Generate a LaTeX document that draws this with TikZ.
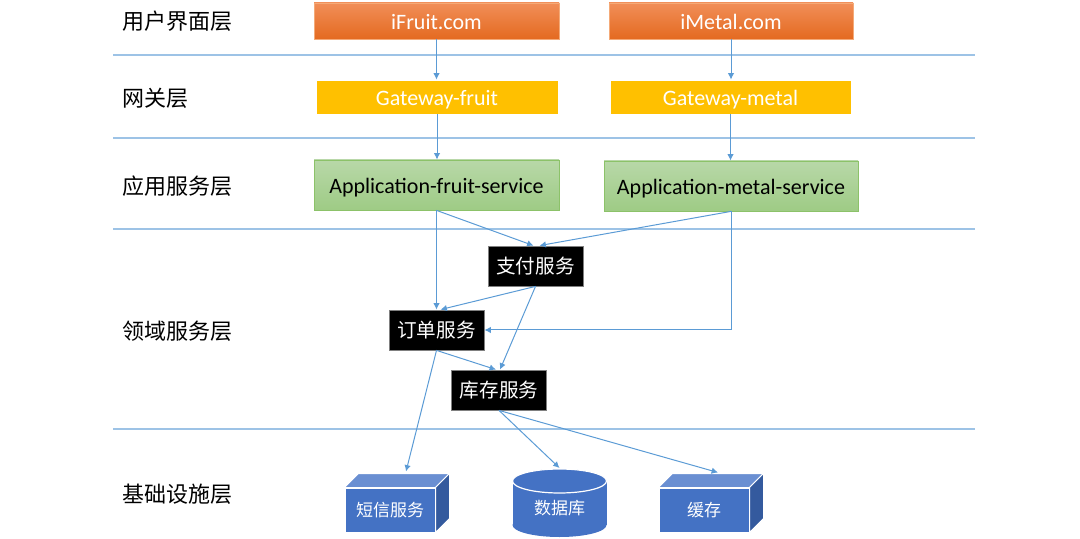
\documentclass[tikz,border=0pt]{standalone}
\usepackage{fontspec}
\setmainfont{Carlito}
\newfontfamily\cjk{Noto Sans CJK SC}
\usetikzlibrary{arrows.meta,calc}
\definecolor{hline}{RGB}{157,195,230}
\definecolor{conn}{RGB}{91,155,213}
\definecolor{orT}{RGB}{241,142,88}
\definecolor{orB}{RGB}{228,106,32}
\definecolor{orE}{RGB}{244,170,120}
\definecolor{gold}{RGB}{255,192,0}
\definecolor{grT}{RGB}{184,216,168}
\definecolor{grB}{RGB}{158,203,133}
\definecolor{grE}{RGB}{140,194,105}
\definecolor{bfront}{RGB}{68,114,196}
\definecolor{btop}{RGB}{106,143,210}
\definecolor{bside}{RGB}{52,90,158}
\tikzset{
  layerlbl/.style={anchor=west,font=\cjk\fontsize{11}{13}\selectfont,inner sep=0pt},
  latin/.style={font=\fontsize{11}{13}\selectfont,text height=9pt,text depth=0pt,inner sep=0pt},
  webbox/.style={latin,top color=orT,bottom color=orB,draw=orE,line width=0.4pt,text=white,
    minimum height=18pt},
  gwbox/.style={latin,fill=gold,draw=white,line width=0.4pt,text=white,minimum height=17pt},
  appbox/.style={latin,top color=grT,bottom color=grB,draw=grE,line width=0.4pt,text=black,
    minimum height=25pt},
  svcbox/.style={fill=black,draw=gray,line width=0.4pt,text=white,
    font=\cjk\fontsize{9.8}{12}\selectfont,minimum width=47.5pt,minimum height=20pt,inner sep=0pt},
  infbox/.style={fill=bfront,draw=white,line width=0.5pt,text=white,
    font=\cjk\fontsize{8.5}{10}\selectfont,minimum width=45pt,minimum height=22pt,inner sep=0pt},
  conn/.style={draw=conn,line width=0.5pt,-{Latex[length=3.2pt,width=3.2pt]}},
  layerline/.style={draw=hline,line width=0.75pt},
}
\begin{document}
\begin{tikzpicture}[x=0.5pt,y=-0.5pt]
\useasboundingbox (0,0) rectangle (1080,539);
% layer lines
\foreach \yy in {55,138,229,429} \draw[layerline] (113,\yy) -- (975,\yy);
% layer labels
\node[layerlbl] (l1) at (122,21) {用户界面层};
\node[layerlbl] (l2) at (122,98) {网关层};
\node[layerlbl] (l3) at (122,186) {应用服务层};
\node[layerlbl] (l4) at (122,331) {领域服务层};
\node[layerlbl] (l5) at (122,494) {基础设施层};
% top boxes
\node[webbox,minimum width=122.5pt] (ifruit) at (436.5,21) {iFruit.com};
\node[webbox,minimum width=122pt] (imetal) at (731,21) {iMetal.com};
\node[gwbox,minimum width=121pt] (gwf) at (437,97) {Gateway-fruit};
\node[gwbox,minimum width=120.5pt] (gwm) at (730.5,97) {Gateway-metal};
\node[appbox,minimum width=122.5pt] (appf) at (436.5,185) {Application-fruit-service};
\node[appbox,minimum width=127pt] (appm) at (731,186) {Application-metal-service};
% domain services
\node[svcbox] (pay) at (535.5,266) {支付服务};
\node[svcbox] (order) at (436.5,330) {订单服务};
\node[svcbox] (stock) at (499,390) {库存服务};
% infrastructure
\node[infbox] (sms) at (390,510) {};
\fill[btop,draw=white,line width=0.5pt] (sms.north west) -- ++(14,-14) -- ($(sms.north east)+(14,-14)$) -- (sms.north east) -- cycle;
\fill[bside,draw=white,line width=0.5pt] (sms.north east) -- ++(14,-14) -- ($(sms.south east)+(14,-14)$) -- (sms.south east) -- cycle;
\node[infbox] at (sms) {短信服务};
\node[infbox] (cache) at (704,510) {};
\fill[btop,draw=white,line width=0.5pt] (cache.north west) -- ++(14,-14) -- ($(cache.north east)+(14,-14)$) -- (cache.north east) -- cycle;
\fill[bside,draw=white,line width=0.5pt] (cache.north east) -- ++(14,-14) -- ($(cache.south east)+(14,-14)$) -- (cache.south east) -- cycle;
\node[infbox] at (cache) {缓存};
% database cylinder
\fill[bfront] (512.5,481) rectangle (606.5,525);
\fill[bfront] (559.5,525) ellipse [x radius=23.5pt, y radius=6pt];
\filldraw[fill=bfront,draw=white,line width=0.6pt] (559.5,481) ellipse [x radius=23.5pt, y radius=6pt];
\node[inner sep=0pt,text=white,font=\cjk\fontsize{8.5}{10}\selectfont] (db) at (559.5,508) {数据库};
\coordinate (dbtop) at (559.5,468);
% connectors
\draw[conn] (ifruit) -- (gwf.north -| ifruit);
\draw[conn] (imetal) -- (gwm.north -| imetal);
\draw[conn] (gwf.south) -- (appf.north -| gwf.south);
\draw[conn] (gwm.south) -- (appm.north -| gwm.south);
\draw[conn] (appf.south) -- ($(pay.north)+(-2,0)$);
\draw[conn] (appm.south) -- ($(pay.north)+(4,0)$);
\draw[conn] (appf.south) -- (order.north -| appf.south);
\draw[conn] (appm.south) |- (order.east);
\draw[conn] (pay.south) -- ($(order.north)+(4,0)$);
\draw[conn] (pay.south) -- ($(stock.north)+(1,0)$);
\draw[conn] (order.south) -- ($(stock.north)+(-3,0)$);
\draw[conn] (order.south) -- ($(sms.north)+(16,-16)$);
\draw[conn] (stock.south) -- (dbtop);
\draw[conn] (stock.south) -- ($(cache.north)+(14,-15)$);
\end{tikzpicture}
\end{document}
